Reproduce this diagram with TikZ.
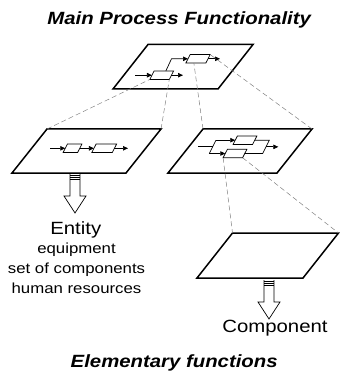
\documentclass[tikz,border=0pt]{standalone}
\usepackage{fontspec}
\setmainfont{Liberation Sans}[FakeStretch=1.15]
\usetikzlibrary{arrows.meta}

% hollow block arrow pointing down, #1 = top centre of the shaft
\newcommand{\hollowdown}[1]{%
  \draw[hollow] #1 ++(-5,0) -- ++(0,22) -- ++(-6,0) -- ++(11,17) -- ++(11,-17) -- ++(-6,0) -- ++(0,-22);
  \draw[hollow] #1 ++(-5,1.2) -- ++(10,0) ++(-10,2) -- ++(10,0) ++(-10,2) -- ++(10,0);}
% slanted function box: #1 name, #2 #3 centre, #4 edge length
\newcommand{\funcbox}[4]{%
  \draw[fbox] (#2,#3) ++(-#4/2-2.15,4.25) coordinate (#1-bl) -- ++(#4,0) coordinate (#1-br)
     -- ++(4.3,-8.5) coordinate (#1-tr) -- ++(-#4,0) coordinate (#1-tl) -- cycle;
  \coordinate (#1-w) at (#2-#4/2,#3);
  \coordinate (#1-e) at (#2+#4/2,#3);
  \coordinate (#1-n) at (#2+2.15,#3-4.25);
  \coordinate (#1-s) at (#2-2.15,#3+4.25);}

\begin{document}
\begin{tikzpicture}[x=1pt, y=-1pt,
   plane/.style={line width=1.5pt, line join=miter},
   fbox/.style={line width=0.7pt},
   flow/.style={line width=0.7pt, -{Triangle[length=5pt,width=4.5pt]}},
   proj/.style={gray, line width=0.5pt, dash pattern=on 5pt off 3pt},
   hollow/.style={line width=0.7pt},
   titletxt/.style={font=\fontsize{17.7}{20}\selectfont\bfseries\itshape, inner sep=0pt, anchor=base},
   bigtxt/.style={font=\fontsize{17.7}{20}\selectfont, inner sep=0pt, anchor=base},
   smalltxt/.style={font=\fontsize{14.6}{20}\selectfont, align=center, inner sep=0pt, anchor=base}]
  \useasboundingbox (0,0) rectangle (339,379);

  \node[titletxt] (title) at (179.2,24.7) {Main Process Functionality};

  % planes
  \draw[plane] (113,89) coordinate (mainBL) -- ++(105,0) coordinate (mainBR)
     -- ++(35,-44.5) coordinate (mainTR) -- ++(-105,0) coordinate (mainTL) -- cycle;
  \draw[plane] (12,173) coordinate (entBL) -- ++(114,0) coordinate (entBR)
     -- ++(35,-44) coordinate (entTR) -- ++(-114,0) coordinate (entTL) -- cycle;
  \draw[plane] (168,173) coordinate (midBL) -- ++(109,0) coordinate (midBR)
     -- ++(35,-44) coordinate (midTR) -- ++(-109,0) coordinate (midTL) -- cycle;
  \draw[plane] (197,278) coordinate (compBL) -- ++(106,0) coordinate (compBR)
     -- ++(35.5,-45) coordinate (compTR) -- ++(-106,0) coordinate (compTL) -- cycle;

  % functions inside the planes
  \funcbox{mb1}{161.7}{75.2}{19.5}
  \funcbox{mb2}{198}{58.8}{20}
  \funcbox{ea}{72.5}{148.3}{14.5}
  \funcbox{eb}{104.2}{148.3}{20.5}
  \funcbox{fu}{245}{140.2}{19.5}
  \funcbox{fl}{235}{153.5}{19.5}

  \coordinate (min)   at (135,75.2);
  \coordinate (mout1) at (183,75.2);
  \coordinate (mbend) at (171.5,58.8);
  \coordinate (mout2) at (220,58.8);
  \draw[flow] (min) -- (mb1-w);
  \draw[flow] (mb1-e) -- (mout1);
  \draw[flow] ([xshift=2pt]mb1-n) -- (mbend) -- (mb2-w);
  \draw[flow] (mb2-e) -- (mout2);

  \coordinate (ein)  at (50,148.3);
  \coordinate (eout) at (128,148.3);
  \draw[flow] (ein) -- (ea-w);
  \draw[flow] (ea-e) -- (eb-w);
  \draw[flow] (eb-e) -- (eout);

  \coordinate (fin)  at (198.3,146.85);
  \coordinate (fjl)  at (212.65,146.85);
  \coordinate (ful)  at (216,140.2);
  \coordinate (fll)  at (209.3,153.5);
  \coordinate (fur)  at (269.3,140.2);
  \coordinate (flr)  at (262.7,153.5);
  \coordinate (fjr)  at (266,146.85);
  \coordinate (fout) at (278.3,146.85);
  \draw[line width=0.7pt] (fin) -- (fjl);
  \draw[line width=0.7pt] (ful) -- (fll);
  \draw[flow] (ful) -- (fu-w);
  \draw[flow] (fll) -- (fl-w);
  \draw[line width=0.7pt] (fu-e) -- (fur) -- (flr) -- (fl-e);
  \draw[flow] (fjr) -- (fout);

  % projection lines
  \draw[proj] (entTL) -- (mb1-bl);
  \draw[proj] (entTR) -- (mb1-br);
  \draw[proj] (midTL) -- ([xshift=-2pt]mb2-s);
  \draw[proj] (midTR) -- (mb2-tr);
  \draw[proj] (fl-bl) -- (compTL);
  \draw[proj] (fl-br) -- (compTR);

  \hollowdown{(75,174)}
  \hollowdown{(269,280)}

  \node[bigtxt] (entity) at (75.8,234.3) {Entity};
  \node[smalltxt] (entinfo) at (76.5,293.3) {equipment\\set of components\\human resources};
  \node[bigtxt] (component) at (275,332.3) {Component};
  \node[titletxt] (elem) at (174.2,367.3) {Elementary functions};
\end{tikzpicture}
\end{document}
